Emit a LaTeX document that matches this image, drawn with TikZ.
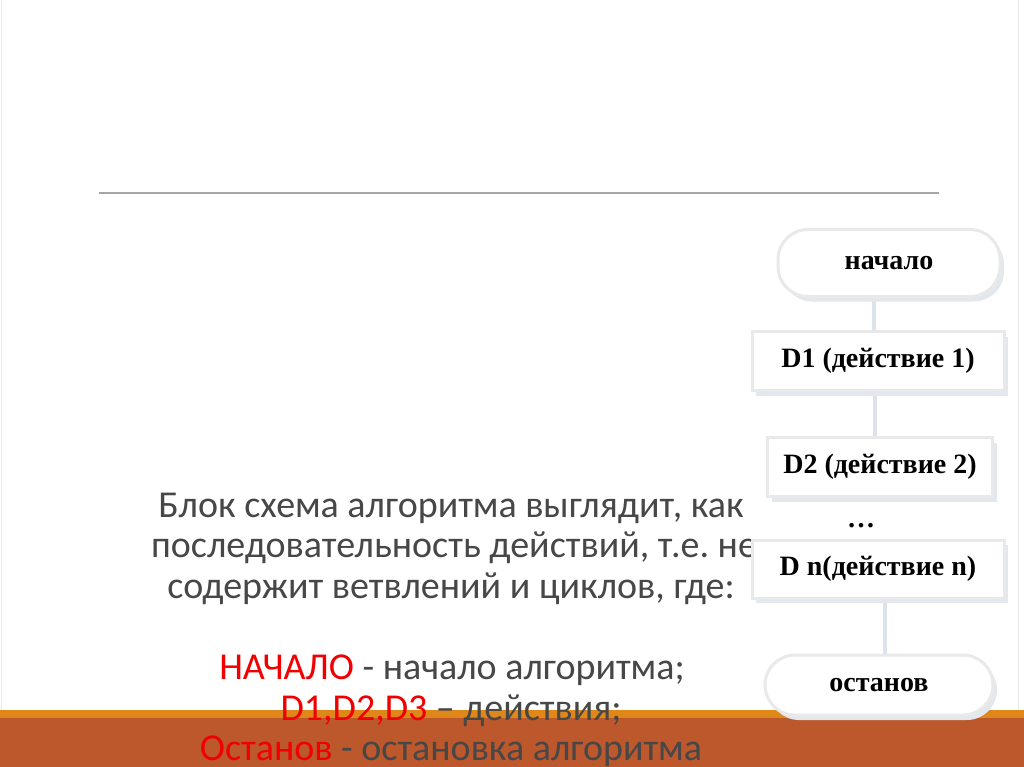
\documentclass[tikz,border=0pt]{standalone}
\usepackage{fontspec}
\setmainfont{Liberation Serif}
\newfontfamily\calib{Carlito}
\usetikzlibrary{shadows}
\definecolor{txtgray}{HTML}{474747}
\definecolor{redtxt}{HTML}{F00000}
\definecolor{boxline}{HTML}{E9E9E9}
\definecolor{shadowc}{HTML}{E3E8EE}
\definecolor{connc}{HTML}{DCE3EB}
\definecolor{bandorange}{HTML}{E0871A}
\definecolor{bandrust}{HTML}{BC582C}
\definecolor{rulegray}{HTML}{A6A6A6}
\pgfdeclarelayer{bglayer}
\pgfdeclarelayer{connlayer}
\pgfsetlayers{bglayer,connlayer,main}
\frenchspacing
\begin{document}
\begin{tikzpicture}[x=1pt,y=-1pt,
  box/.style={draw=boxline, line width=3pt, fill=white, inner sep=0pt,
    font=\bfseries\fontsize{28}{30}\selectfont,
    drop shadow={shadow xshift=4pt, shadow yshift=-5pt, fill=shadowc, opacity=1}},
  term/.style={box, rounded corners=30pt},
  conn/.style={draw=connc, line width=4pt},
  body/.style={font=\calib\fontsize{38}{42}\selectfont, text=txtgray, anchor=base, inner sep=0pt}]
\useasboundingbox (0,0) rectangle (1024,767);
\begin{pgfonlayer}{bglayer}
\fill[white] (0,0) rectangle (1024,767);
\end{pgfonlayer}
% faint slide edges
\draw[draw=boxline, line width=0.8pt] (1.5,0) -- (1.5,710);
\draw[draw=boxline, line width=0.8pt] (1018,0) -- (1018,710);
% title rule
\draw[rulegray, line width=1.2pt] (99,193) -- (939,193);
% bottom band
\fill[bandorange] (0,710) rectangle (1024,718);
\fill[bandrust] (0,718) rectangle (1024,767);
% body text
\node[body] (l1) at (451,517) {Блок схема алгоритма выглядит, как};
\node[body] (l2) at (454,557) {последовательность действий, т.е. не};
\node[body] (l3) at (451,598) {содержит ветвлений и циклов, где:};
\node[body] (l5) at (452,679) {\textcolor{redtxt}{НАЧАЛО} - начало алгоритма;};
\node[body] (l6) at (451,720) {\textcolor{redtxt}{D1,D2,D3} – действия;};
\node[body] (l7) at (451,760) {\textcolor{redtxt}{Останов} - остановка алгоритма};
% flowchart nodes
\node[term, minimum width=222pt, minimum height=67pt] (n) at (889,263) {начало};
\node[box, minimum width=252pt, minimum height=59pt] (d1) at (878,361) {D1 (действие 1)};
\node[box, minimum width=225pt, minimum height=59pt] (d2) at (880,467) {D2 (действие 2)};
\node[font=\bfseries\fontsize{28}{30}\selectfont, inner sep=0pt] (dots) at (861,526) {…};
\node[box, minimum width=252pt, minimum height=58pt] (dn) at (878,569) {D n(действие n)};
\node[term, minimum width=228pt, minimum height=60pt] (o) at (879,685) {останов};
% connectors
\begin{pgfonlayer}{connlayer}
\draw[conn] ([xshift=-15pt]n.south) -- ([xshift=-4pt]d1.north);
\draw[conn] ([xshift=-3pt]d1.south) -- ([xshift=-5pt]d2.north);
\draw[conn] ([xshift=7pt]dn.south) -- ([xshift=6pt]o.north);
\end{pgfonlayer}
\end{tikzpicture}
\end{document}
